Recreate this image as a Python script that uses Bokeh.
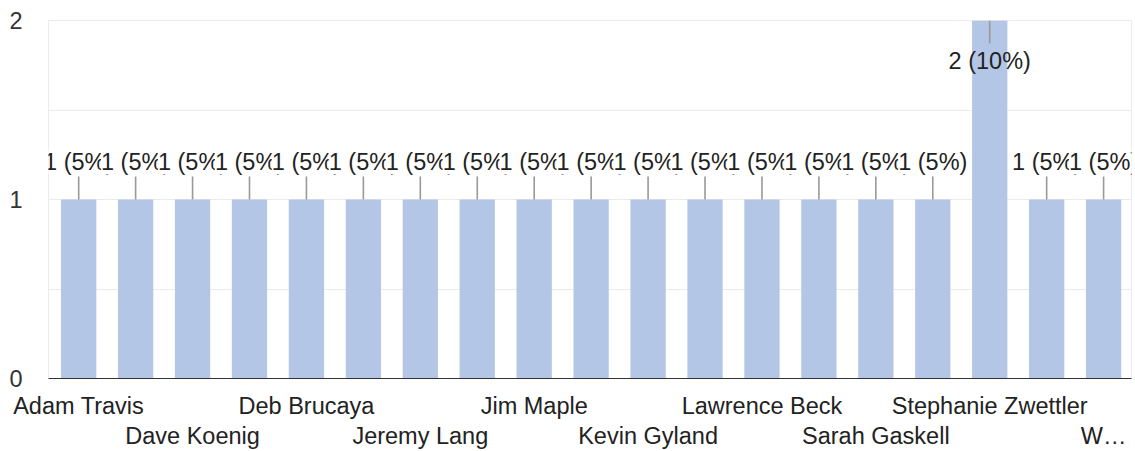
import math

from bokeh.core.properties import value
from bokeh.embed import file_html
from bokeh.models import ColumnDataSource, FixedTicker, LabelSet, LinearAxis, Range1d
from bokeh.plotting import figure
from bokeh.resources import INLINE

# Responses per person
counts = [1, 1, 1, 1, 1, 1, 1, 1, 1, 1, 1, 1, 1, 1, 1, 1, 2, 1, 1]

# Names printed under every other bar, alternating between two rows
tick_labels = ["Adam Travis", "Dave Koenig", "Deb Brucaya", "Jeremy Lang",
               "Jim Maple", "Kevin Gyland", "Lawrence Beck", "Sarah Gaskell",
               "Stephanie Zwettler", "W…"]
y_ticks = [0, 1, 2]
y_minor = [0.5, 1.5]

FONT = "Liberation Sans"
FSIZE = "23.5px"
BAR = "#b4c6e6"
TEXT = "#222222"
GRID = "#ebebeb"

n = len(counts)
total = sum(counts)
ymax = max(counts)
xs = list(range(n))
pct_labels = [f"{c} ({round(100 * c / total)}%)" for c in counts]

p = figure(width=1135, height=451, output_backend="svg", toolbar_location=None,
           x_range=Range1d(-0.53, n - 0.51), y_range=Range1d(0, ymax),
           x_axis_location=None,
           min_border_left=48, min_border_right=4, min_border_top=20,
           min_border_bottom=71)
p.outline_line_color = GRID
p.background_fill_color = "white"
p.border_fill_color = "white"

# y axis: plain numbers, no ticks or line
ya = p.yaxis[0]
ya.ticker = FixedTicker(ticks=y_ticks, minor_ticks=y_minor)
ya.axis_line_color = None
ya.major_tick_line_color = None
ya.minor_tick_line_color = None
ya.major_label_text_font = FONT
ya.major_label_text_font_size = FSIZE
ya.major_label_text_color = "#333333"
ya.major_label_standoff = 20

p.xgrid.visible = False
p.ygrid.ticker = FixedTicker(ticks=y_ticks, minor_ticks=y_minor)
p.ygrid.grid_line_color = GRID
p.ygrid.minor_grid_line_color = GRID

# two stacked bottom axes carry the alternating name rows
pos = list(range(0, n, 2))
row1 = {k: lab for k, lab in zip(pos[0::2], tick_labels[0::2])}
row2 = {k: lab for k, lab in zip(pos[1::2], tick_labels[1::2])}

ax1 = LinearAxis(ticker=FixedTicker(ticks=list(row1.keys())),
                 major_label_overrides=row1)
ax2 = LinearAxis(ticker=FixedTicker(ticks=list(row2.keys())),
                 major_label_overrides=row2)
for ax in (ax1, ax2):
    ax.major_tick_line_color = None
    ax.minor_tick_line_color = None
    ax.major_label_text_font = FONT
    ax.major_label_text_font_size = FSIZE
    ax.major_label_text_color = TEXT
ax1.axis_line_color = "#333333"
ax1.axis_line_width = 1.2
ax1.major_label_standoff = 8
ax2.axis_line_color = None
ax2.major_label_standoff = -5
p.add_layout(ax1, "below")
p.add_layout(ax2, "below")

src = ColumnDataSource(dict(
    x=xs, top=counts, label=pct_labels,
    angle=[-math.pi / 2 if c == ymax else math.pi / 2 for c in counts],
))
p.vbar(x="x", top="top", bottom=0, width=0.62, source=src,
       fill_color=BAR, line_color=None)

# leader lines from the bar tops to the value labels
p.ray(x="x", y="top", angle="angle", length=23, length_units="screen",
      source=src, line_color="#999999", line_width=1.6)

out_idx = [i for i, c in enumerate(counts) if c < ymax]
in_idx = [i for i, c in enumerate(counts) if c == ymax]

out_src = ColumnDataSource(dict(x=[xs[i] for i in out_idx],
                                y=[counts[i] for i in out_idx],
                                label=[pct_labels[i] for i in out_idx]))
in_src = ColumnDataSource(dict(x=[xs[i] for i in in_idx],
                               y=[counts[i] for i in in_idx],
                               label=[pct_labels[i] for i in in_idx]))

# value labels above the shorter bars; each one masks its left neighbour
p.add_layout(LabelSet(x="x", y="y", text="label", source=out_src,
                      y_offset=38, text_align="center", text_baseline="middle",
                      text_font=value(FONT), text_font_size=value(FSIZE),
                      text_color=TEXT, background_fill_color="white"))
p.text(x="x", y="y", text="label", source=in_src, y_offset=40,
       text_align="center", text_baseline="middle",
       text_font=value(FONT), text_font_size=FSIZE, text_color=TEXT)

open("out.html", "w").write(file_html(p, INLINE))
